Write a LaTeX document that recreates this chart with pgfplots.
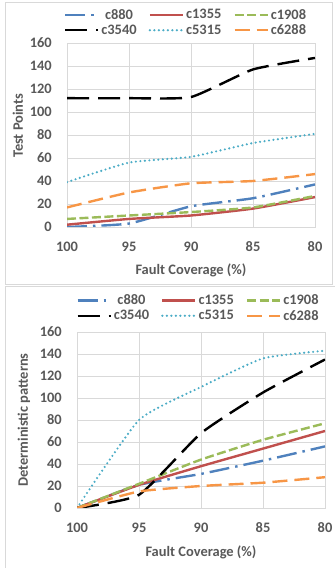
\documentclass[border=0pt]{standalone}
\usepackage{fontspec}
\setmainfont{Carlito}
\usepackage{pgfplots}
\pgfplotsset{compat=1.18}
\definecolor{cblue}{HTML}{4F81BD}
\definecolor{cred}{HTML}{C0504D}
\definecolor{cgreen}{HTML}{9BBB59}
\definecolor{ccyan}{HTML}{4BACC6}
\definecolor{corange}{HTML}{F79646}
\definecolor{tgray}{HTML}{595959}
\definecolor{ggray}{HTML}{D9D9D9}
\newcommand{\cf}{\fontsize{14.5}{16}\selectfont\bfseries}
\pgfplotsset{
 mystyle/.style={
  scale only axis, width=248bp,
  xmin=0,xmax=4, ymin=0,ymax=160,
  xtick={0,1,2,3,4}, xticklabels={100,95,90,85,80},
  ytick={0,20,...,160},
  grid=major, major grid style={ggray, line width=0.75bp},
  axis line style={ggray, line width=0.75bp},
  major tick length=0pt,
  /pgf/number format/assume math mode=true,
  tick label style={font=\cf, text=tgray},
  xticklabel style={anchor=center, yshift=-20bp},
  yticklabel style={anchor=east, inner sep=0pt, xshift=-15bp},
  label style={font=\cf, text=tgray},
  legend columns=3,
  legend style={draw=none, fill=none, font=\cf, text=tgray,
    /tikz/every even column/.append style={column sep=10bp}},
  legend image code/.code={\draw[##1] (0bp,0bp) -- (33bp,0bp);},
  every axis plot/.append style={line width=2.4bp, smooth, tension=0.3},
 },
 s880/.style={cblue, dash pattern=on 20bp off 6bp on 2.5bp off 6bp},
 s1355/.style={cred},
 s1908/.style={cgreen, dash pattern=on 9bp off 3.5bp},
 s3540/.style={black, dash pattern=on 22bp off 9bp},
 s5315/.style={ccyan, line cap=round, dash pattern=on 0bp off 4.5bp},
 s6288/.style={corange, dash pattern=on 15bp off 7bp},
}
\begin{document}
\begin{tikzpicture}[x=1bp,y=1bp]
\path[use as bounding box] (0,0) rectangle (334,568);
\draw[ggray, line width=0.75bp] (5,284) rectangle (332,566);
\draw[ggray, line width=0.75bp] (5,-2) -- (5,282) -- (336,282);
\begin{axis}[mystyle, height=184bp, at={(67bp,341bp)}, anchor=south west,
  xlabel={Fault Coverage (\%)}, ylabel={Test Points},
  xlabel style={at={(axis description cs:0.5,-0.234)}, anchor=center},
  ylabel style={at={(axis description cs:-0.198,0.55)}, anchor=center},
  legend style={at={(0.48,1.111)}, anchor=center}]
\addplot[s880] coordinates {(0,0) (1,3) (2,18) (3,25) (4,37)};
\addlegendentry{c880}
\addplot[s1355] coordinates {(0,2) (1,7) (2,10) (3,16) (4,26)};
\addlegendentry{c1355}
\addplot[s1908] coordinates {(0,7) (1,10) (2,13) (3,17) (4,27)};
\addlegendentry{c1908}
\addplot[s3540] coordinates {(0,112) (1,112) (2,113) (3,137) (4,147)};
\addlegendentry{c3540}
\addplot[s5315] coordinates {(0,39) (1,56) (2,61) (3,73) (4,81)};
\addlegendentry{c5315}
\addplot[s6288] coordinates {(0,17) (1,30) (2,38) (3,40) (4,46)};
\addlegendentry{c6288}
\end{axis}
\begin{axis}[mystyle, height=176bp, at={(77bp,60bp)}, anchor=south west,
  xlabel={Fault Coverage (\%)}, ylabel={Deterministic patterns},
  xlabel style={at={(axis description cs:0.5,-0.25)}, anchor=center},
  ylabel style={at={(axis description cs:-0.214,0.5)}, anchor=center},
  legend style={at={(0.49,1.136)}, anchor=center}]
\addplot[s880] coordinates {(0,0) (1,21) (2,31) (3,43) (4,56)};
\addlegendentry{c880}
\addplot[s1355] coordinates {(0,0) (1,21) (2,38) (3,54) (4,70)};
\addlegendentry{c1355}
\addplot[s1908] coordinates {(0,0) (1,22) (2,44) (3,62) (4,77)};
\addlegendentry{c1908}
\addplot[s3540] coordinates {(0,0) (1,12) (2,68) (3,105) (4,135)};
\addlegendentry{c3540}
\addplot[s5315] coordinates {(0,0) (1,80) (2,110) (3,136) (4,143)};
\addlegendentry{c5315}
\addplot[s6288] coordinates {(0,0) (1,15) (2,20) (3,23) (4,28)};
\addlegendentry{c6288}
\end{axis}
\end{tikzpicture}
\end{document}
